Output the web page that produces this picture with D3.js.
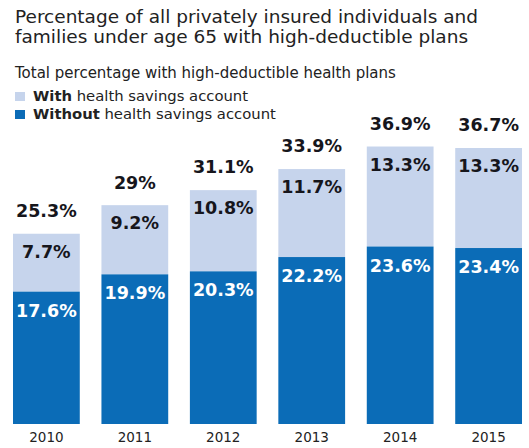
<!DOCTYPE html>
<html>
<head>
<meta charset="utf-8">
<script src="https://cdn.jsdelivr.net/npm/d3@7"></script>
<style>
  body { margin: 0; background: #fff; }
  svg text { font-family: "DejaVu Sans", sans-serif; }
</style>
</head>
<body>
<svg id="chart" width="529" height="448"></svg>
<script>
// data
var years = ["2010", "2011", "2012", "2013", "2014", "2015"];
var without_hsa = [17.6, 19.9, 20.3, 22.2, 23.6, 23.4];
var with_hsa = [7.7, 9.2, 10.8, 11.7, 13.3, 13.3];
var totals = [25.3, 29, 31.1, 33.9, 36.9, 36.7];
var title_lines = ["Percentage of all privately insured individuals and",
                   "families under age 65 with high-deductible plans"];
var subtitle = "Total percentage with high-deductible health plans";
var legend_items = [
  {bold: "With", rest: " health savings account", color: "#c6d4ec"},
  {bold: "Without", rest: " health savings account", color: "#0b6cb7"}
];

var svg = d3.select("#chart");
var light = legend_items[0].color, dark = legend_items[1].color;

// titles
svg.selectAll(".title").data(title_lines).enter()
  .append("text").attr("class", "title")
  .attr("x", 15).attr("y", function(d, i){ return 23 + i*20; })
  .attr("font-size", 18.5).attr("fill", "#222")
  .text(function(d){ return d; });

svg.append("text")
  .attr("x", 15).attr("y", 78)
  .attr("font-size", 15).attr("fill", "#222")
  .text(subtitle);

var legend = svg.selectAll(".legend").data(legend_items).enter()
  .append("g").attr("class", "legend")
  .attr("transform", function(d, i){ return "translate(15," + (92 + i*18) + ")"; });
legend.append("rect").attr("width", 10).attr("height", 9)
  .attr("fill", function(d){ return d.color; });
var lt = legend.append("text").attr("x", 18).attr("y", 8.5)
  .attr("font-size", 14.8).attr("fill", "#222");
lt.append("tspan").attr("font-weight", "bold").text(function(d){ return d.bold; });
lt.append("tspan").text(function(d){ return d.rest; });

// scales
var x = d3.scaleBand().domain(years).range([13, 522]).paddingInner(0.245).paddingOuter(0);
var y = d3.scaleLinear().domain([0, 40]).range([424, 123.2]);

var rows = years.map(function(yr, i){
  return {year: yr, lo: without_hsa[i], hi: with_hsa[i], total: totals[i]};
});

var bars = svg.append("g").attr("class", "bars")
  .selectAll("g").data(rows).enter().append("g");

bars.append("rect")
  .attr("x", function(d){ return x(d.year); })
  .attr("width", x.bandwidth())
  .attr("y", function(d){ return y(d.lo + d.hi); })
  .attr("height", function(d){ return y(d.lo) - y(d.lo + d.hi); })
  .attr("fill", light);
bars.append("rect")
  .attr("x", function(d){ return x(d.year); })
  .attr("width", x.bandwidth())
  .attr("y", function(d){ return y(d.lo); })
  .attr("height", function(d){ return y(0) - y(d.lo); })
  .attr("fill", dark);

var cx = function(d){ return x(d.year) + x.bandwidth()/2; };
var lab = function(sel){
  return sel.append("text").attr("x", cx).attr("text-anchor", "middle")
    .attr("font-size", 17.5).attr("font-weight", "bold");
};
lab(bars).attr("y", function(d){ return y(d.total) - 17; }).attr("fill", "#16161c")
  .text(function(d){ return d.total + "%"; });
lab(bars).attr("y", function(d){ return y(d.lo + d.hi) + 24; }).attr("fill", "#16161c")
  .text(function(d){ return d.hi + "%"; });
lab(bars).attr("y", function(d){ return y(d.lo) + 25; }).attr("fill", "#fff")
  .text(function(d){ return d.lo + "%"; });

// x axis, just the labels
var xaxis = d3.axisBottom(x).tickSize(0).tickPadding(0);
var xg = svg.append("g").attr("class", "axis axis-x")
  .attr("transform", "translate(0,432)")
  .call(xaxis);
xg.select(".domain").remove();
xg.selectAll("text").attr("font-size", 13.5).attr("fill", "#222")
  .attr("font-family", "'Liberation Sans', sans-serif").attr("dy", "0.71em");
</script>
</body>
</html>
